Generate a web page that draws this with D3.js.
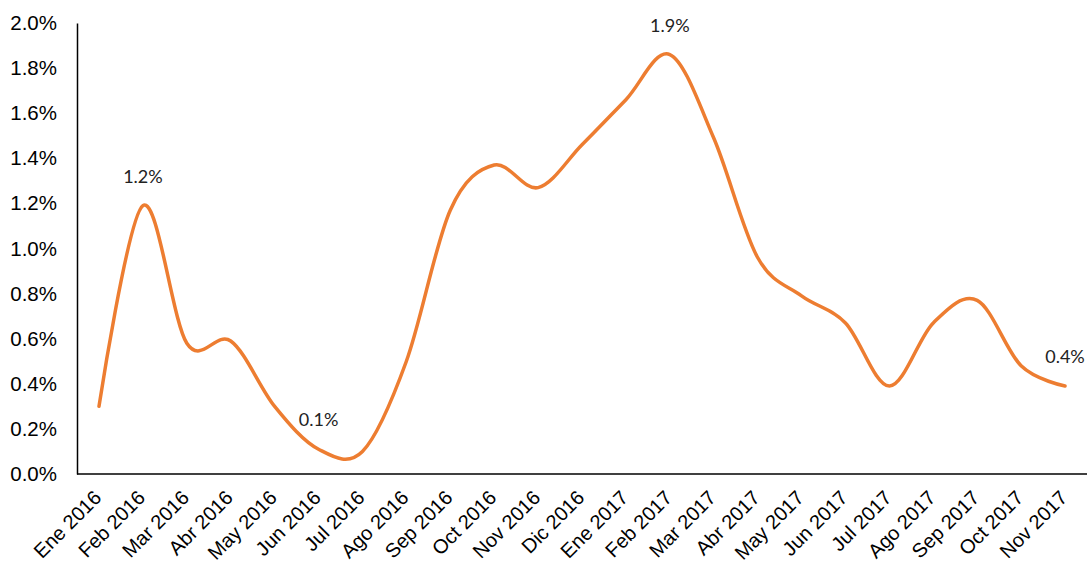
<!DOCTYPE html>
<html><head><meta charset="utf-8">
<script src="https://cdn.jsdelivr.net/npm/d3@7"></script>
<style>body{margin:0;background:#fff}svg{display:block}</style>
</head><body>
<svg id="c" width="1089" height="566"></svg>
<script>
const categories = ["Ene 2016","Feb 2016","Mar 2016","Abr 2016","May 2016","Jun 2016","Jul 2016","Ago 2016","Sep 2016","Oct 2016","Nov 2016","Dic 2016","Ene 2017","Feb 2017","Mar 2017","Abr 2017","May 2017","Jun 2017","Jul 2017","Ago 2017","Sep 2017","Oct 2017","Nov 2017"];
const values = [0.30,1.19,0.58,0.59,0.30,0.11,0.10,0.50,1.17,1.37,1.27,1.46,1.66,1.86,1.49,0.96,0.79,0.67,0.39,0.67,0.77,0.48,0.39];
const labelled = ["Feb 2016","Jun 2016","Feb 2017","Nov 2017"];
const yTicks = [0,0.2,0.4,0.6,0.8,1.0,1.2,1.4,1.6,1.8,2.0];

const svg = d3.select("#c");
const x = d3.scalePoint().domain(categories).range([99, 1065]);
const y = d3.scaleLinear().domain([0, 2.0]).range([474, 23]);

// y axis
const yAxis = d3.axisLeft(y).tickValues(yTicks).tickSize(0).tickPadding(20).tickFormat(d => d.toFixed(1) + "%");
const gy = svg.append("g").attr("transform", "translate(77,0)").call(yAxis);
gy.select(".domain").attr("stroke", "#000").attr("stroke-width", 1.5);
gy.selectAll("text").attr("font-family", "Liberation Sans, Arial, sans-serif").attr("font-size", 20.5).attr("fill", "#000");

// x axis
const xAxis = d3.axisBottom(x).tickSize(0).tickPadding(0);
const gx = svg.append("g").attr("transform", "translate(0,474)").call(xAxis);
gx.select(".domain").remove();
svg.append("line").attr("x1", 77).attr("x2", 1087).attr("y1", 474).attr("y2", 474).attr("stroke", "#000").attr("stroke-width", 1.5);
gx.selectAll("text")
  .attr("font-family", "Liberation Sans, Arial, sans-serif").attr("font-size", 20).attr("fill", "#000")
  .attr("text-anchor", "end").attr("dy", 0).attr("y", 0)
  .attr("transform", "translate(3,25) rotate(-45)");

// line
const line = d3.line().x((d, i) => x(categories[i])).y(d => y(d)).curve(d3.curveCardinal.tension(0));
svg.append("path").datum(values).attr("d", line).attr("fill", "none")
  .attr("stroke", "#ED7D31").attr("stroke-width", 3.5).attr("stroke-linecap", "round");

// data labels
svg.selectAll(".lbl").data(categories.map((c, i) => ({c, v: values[i]})).filter(d => labelled.includes(d.c)))
  .enter().append("text").attr("class", "lbl")
  .attr("x", d => x(d.c)).attr("y", d => y(d.v) - 23)
  .attr("text-anchor", "middle").attr("font-family", "Lato, 'Open Sans', sans-serif").attr("font-size", 18).attr("fill", "#222")
  .text(d => d.v.toFixed(1) + "%");
</script>
</body></html>
